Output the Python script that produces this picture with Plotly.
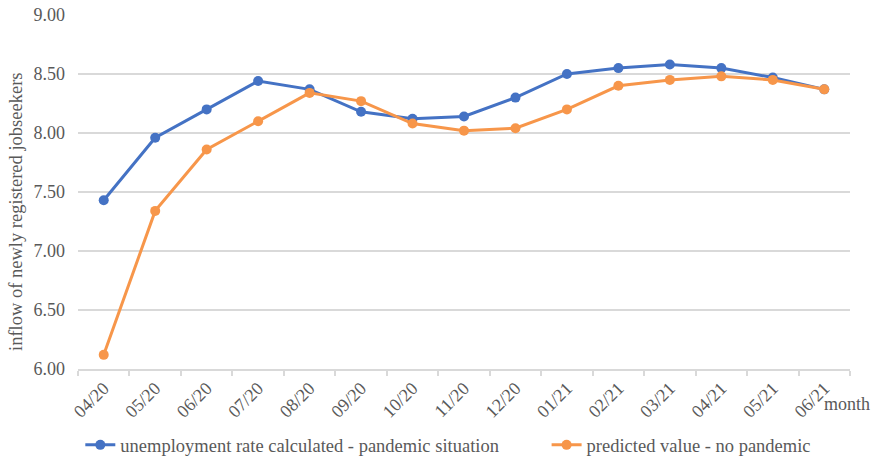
import plotly.graph_objects as go

months = ["04/20", "05/20", "06/20", "07/20", "08/20", "09/20", "10/20", "11/20",
          "12/20", "01/21", "02/21", "03/21", "04/21", "05/21", "06/21"]
pandemic = [7.43, 7.96, 8.20, 8.44, 8.37, 8.18, 8.12, 8.14, 8.30, 8.50, 8.55, 8.58, 8.55, 8.47, 8.37]
no_pandemic = [6.12, 7.34, 7.86, 8.10, 8.34, 8.27, 8.08, 8.02, 8.04, 8.20, 8.40, 8.45, 8.48, 8.45, 8.37]
y_ticks = [6.0, 6.5, 7.0, 7.5, 8.0, 8.5, 9.0]

FONT = "Liberation Serif"
GREY = "#595959"

fig = go.Figure()
fig.add_trace(go.Scatter(
    x=months, y=pandemic, mode="lines+markers",
    name="unemployment rate calculated - pandemic situation",
    line=dict(color="#4472C4", width=3),
    marker=dict(size=10, color="#4472C4"),
    legend="legend",
))
fig.add_trace(go.Scatter(
    x=months, y=no_pandemic, mode="lines+markers",
    name="predicted value - no pandemic",
    line=dict(color="#F7964A", width=3),
    marker=dict(size=10, color="#F7964A"),
    legend="legend2",
))

legend_style = dict(orientation="h", xanchor="left", y=-0.162, yanchor="top",
                    font=dict(family=FONT, size=18.5, color=GREY),
                    bgcolor="rgba(0,0,0,0)")

fig.update_layout(
    width=876, height=461,
    margin=dict(l=78, r=26, t=15, b=92, autoexpand=False),
    paper_bgcolor="white", plot_bgcolor="white",
    font=dict(family=FONT, color=GREY, size=18),
    showlegend=True,
    legend=dict(x=0.003, **legend_style),
    legend2=dict(x=0.607, **legend_style),
    xaxis=dict(
        type="category", tickangle=-45, tickson="boundaries",
        ticks="outside", ticklen=5, tickcolor="#d9d9d9", tickwidth=1.5,
        showline=True, linecolor="#d9d9d9", linewidth=1.5,
        showgrid=False, tickfont=dict(family=FONT, size=18, color=GREY),
        range=[-0.5, 14.5], automargin=False,
    ),
    yaxis=dict(
        range=[6.0, 9.0], tickvals=y_ticks,
        ticktext=[f"{v:.2f}" for v in y_ticks],
        showgrid=True, gridcolor="#d9d9d9", gridwidth=1.5,
        zeroline=False, showline=False, ticks="",
        ticklabelstandoff=12, automargin=False,
        tickfont=dict(family=FONT, size=18, color=GREY),
    ),
)

# vertical axis title, sitting a little below the plot's middle
fig.add_annotation(
    text="inflow of newly registered jobseekers", textangle=-90,
    xref="paper", yref="paper", x=-0.0804, y=0.4435,
    xanchor="center", yanchor="middle", showarrow=False,
    font=dict(size=18.5, color=GREY, family=FONT),
)

fig.add_annotation(
    text="month", xref="paper", yref="paper", x=1.0, y=-0.1,
    xanchor="left", yanchor="middle", showarrow=False, xshift=-28,
    font=dict(size=18, color=GREY, family=FONT),
)

fig.write_html("out.html")
